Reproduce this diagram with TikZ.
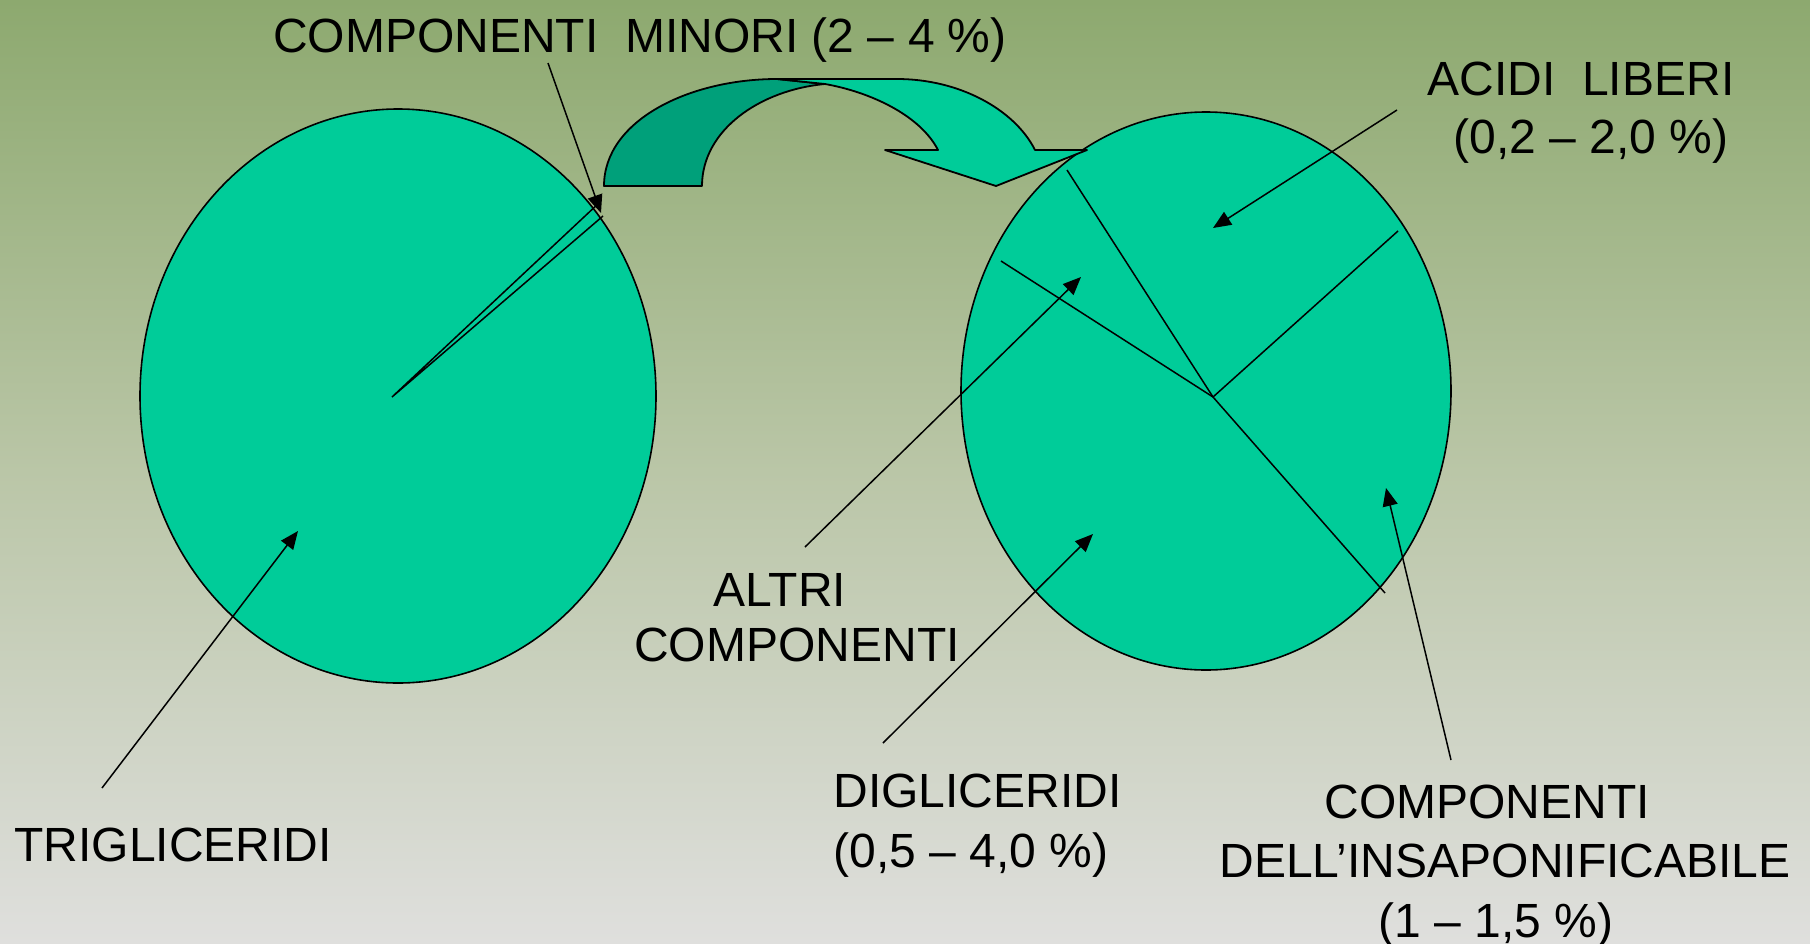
\documentclass[tikz,border=0pt]{standalone}
\usepackage{fontspec}
\setmainfont{Liberation Sans}
\usetikzlibrary{arrows.meta,shapes.geometric}
\definecolor{bgtop}{RGB}{141,169,111}
\definecolor{bgmid}{RGB}{186,198,167}
\definecolor{bgbot}{RGB}{223,223,221}
\definecolor{pie}{RGB}{0,204,153}
\definecolor{piedark}{RGB}{0,160,122}
\tikzset{
  lbl/.style={inner sep=0pt, font=\fontsize{24}{29}\selectfont},
  pieshape/.style={draw=black, line width=0.8pt, fill=pie},
  edge/.style={draw=black, line width=0.75pt},
  pointer/.style={draw=black, line width=0.75pt, -{Triangle[length=9pt,width=7.5pt]}},
}
\begin{document}
\begin{tikzpicture}[x=0.5pt,y=-0.5pt]
\useasboundingbox (0,0) rectangle (1810,943);
\shade[top color=bgtop, bottom color=bgbot, middle color=bgmid] (0,0) rectangle (1810,943);

% left pie
\node[pieshape, ellipse, minimum width=258pt, minimum height=287pt, inner sep=0pt] (pieL) at (398,396) {};
\coordinate (cL) at (392,397);
\coordinate (sL1) at (600,202);
\coordinate (sL2) at (603,216);
\draw[edge] (sL1) -- (cL) -- (sL2);

% right pie
\node[pieshape, ellipse, minimum width=245pt, minimum height=279pt, inner sep=0pt] (pieR) at (1206,391) {};
\coordinate (cR) at (1213,397);
\coordinate (r1) at (1067,170);
\coordinate (r2) at (1001,261);
\coordinate (r3) at (1398,231);
\coordinate (r4) at (1385,593);
\draw[edge] (r1) -- (cR);
\draw[edge] (r2) -- (cR);
\draw[edge] (r3) -- (cR);
\draw[edge] (r4) -- (cR);

% curved arrow: back (dark) part
\draw[line width=0.9pt, fill=piedark, line join=round]
  (604,186) .. controls (604,120) and (690,79) .. (777,79)
  -- (825,84) .. controls (760,90) and (702,130) .. (702,186) -- cycle;
% front (light) part
\draw[line width=0.9pt, fill=pie, line join=round]
  (825,84) .. controls (870,92) and (920,115) .. (938,150)
  -- (885,150) -- (996,186) -- (1087,150) -- (1035,150)
  .. controls (1015,110) and (960,79) .. (897,79) -- (777,79) -- cycle;

% labels
\node[lbl, anchor=base] (tmin) at (640,52) {COMPONENTI\ \ MINORI (2 – 4 \%)};
\node[lbl, anchor=base] (tacid) at (1581,95) {ACIDI\ \ LIBERI};
\node[lbl, anchor=base] (tacidp) at (1591,153) {(0,2 – 2,0 \%)};
\node[lbl, anchor=base] (talt1) at (780,606) {ALTRI};
\node[lbl, anchor=base] (talt2) at (797,661) {COMPONENTI};
\node[lbl, anchor=base west] (tdig) at (833,807) {DIGLICERIDI};
\node[lbl, anchor=base west] (tdigp) at (833,867) {(0,5 – 4,0 \%)};
\node[lbl, anchor=base] (tins1) at (1487,818) {COMPONENTI};
\node[lbl, anchor=base] (tins2) at (1505,877) {DELL’INSAPONIFICABILE};
\node[lbl, anchor=base] (tins3) at (1496,937) {(1 – 1,5 \%)};
\node[lbl, anchor=base west] (ttri) at (14,861) {TRIGLICERIDI};

% pointers
\coordinate (pminS) at (548,63);   \coordinate (pminE) at (601,213);
\coordinate (pacS) at (1397,110);  \coordinate (pacE) at (1213,228);
\coordinate (paltS) at (805,547);  \coordinate (paltE) at (1081,277);
\coordinate (pdigS) at (883,743);  \coordinate (pdigE) at (1093,534);
\coordinate (pinsS) at (1451,760); \coordinate (pinsE) at (1386,488);
\coordinate (ptriS) at (102,788);  \coordinate (ptriE) at (298,531);
\draw[pointer] (pminS) -- (pminE);
\draw[pointer] (pacS) -- (pacE);
\draw[pointer] (paltS) -- (paltE);
\draw[pointer] (pdigS) -- (pdigE);
\draw[pointer] (pinsS) -- (pinsE);
\draw[pointer] (ptriS) -- (ptriE);
\end{tikzpicture}
\end{document}
